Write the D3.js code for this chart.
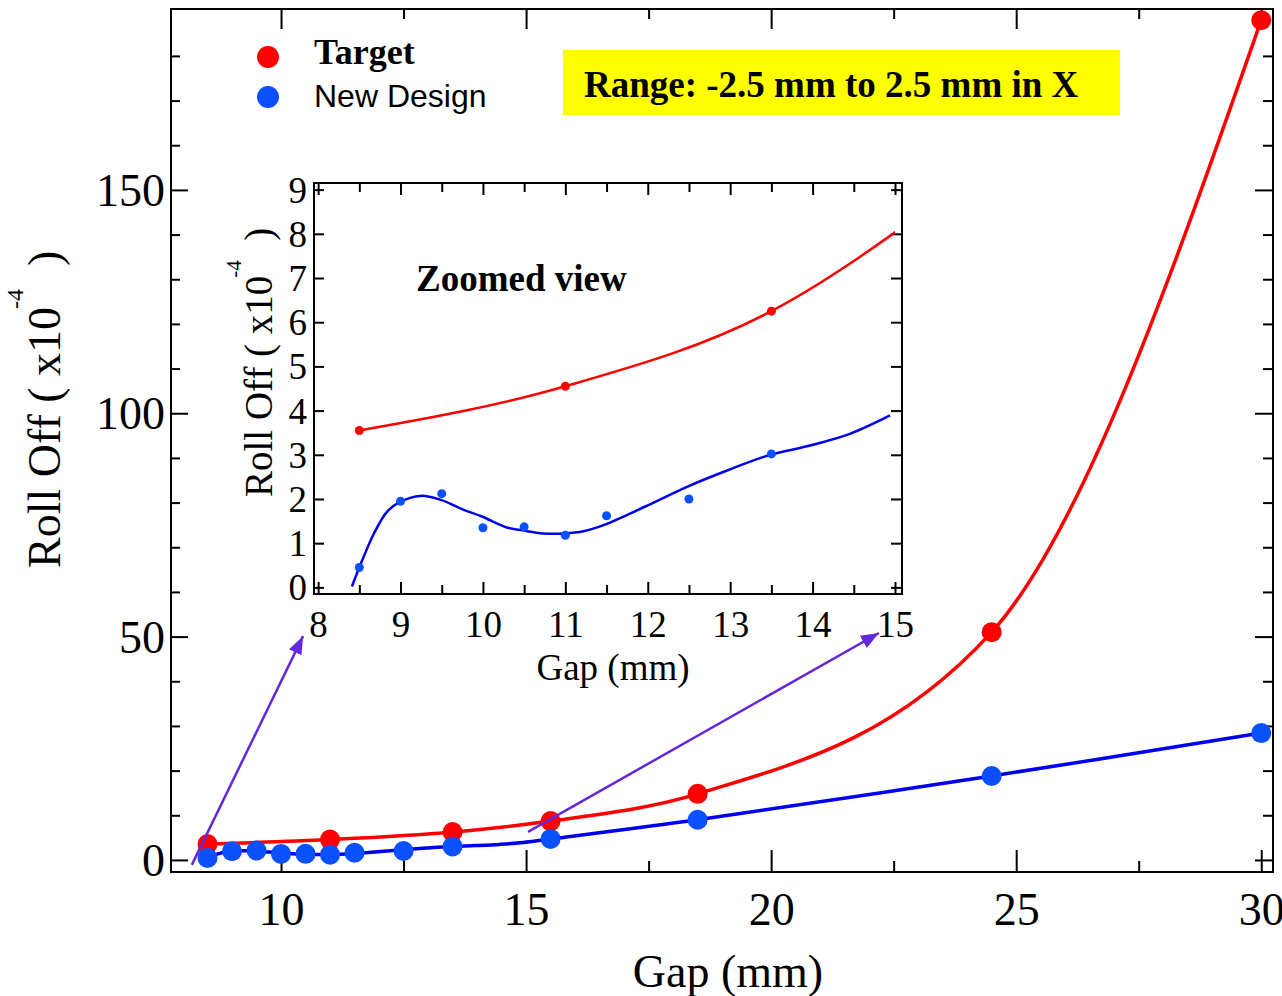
<!DOCTYPE html>
<html>
<head>
<meta charset="utf-8">
<script src="https://cdn.jsdelivr.net/npm/d3@7"></script>
<style>
  body { margin: 0; background: #fff; }
  svg { display: block; }
  text { fill: #000; }
  .tick line { stroke: #000; stroke-width: 2; }
</style>
</head>
<body>
<div class="chart"></div>
<script>
// Roll off (x10^-4) against gap (mm)
var targetGap  = [8.5, 11, 13.5, 15.5, 18.5, 24.5, 30];
var targetRoll = [3.55, 4.55, 6.25, 8.7, 14.8, 51.0, 188.0];

var designGap  = [8.5, 9, 9.5, 10, 10.5, 11, 11.5, 12.5, 13.5, 15.5, 18.5, 24.5, 30];
var designRoll = [0.45, 1.95, 2.12, 1.35, 1.37, 1.18, 1.62, 2.0, 3.02, 4.7, 9.0, 18.8, 28.4];

// fitted curve of the new design
var designFitGap  = [8.41, 8.5, 8.68, 8.84, 9.0, 9.24, 9.49, 9.76, 9.98, 10.3, 10.48, 10.73,
                     10.98, 11.22, 11.48, 11.97, 12.47, 12.97, 13.47, 13.97, 14.46, 14.94];
var designFitRoll = [0.02, 0.45, 1.23, 1.72, 1.94, 2.07, 1.98, 1.76, 1.61, 1.35, 1.29, 1.22,
                     1.22, 1.27, 1.42, 1.83, 2.27, 2.65, 2.99, 3.21, 3.48, 3.89];

// ticks
var mainXTicks = [10, 15, 20, 25, 30];
var mainXMinor = [12.5, 17.5, 22.5, 27.5];
var mainYTicks = [0, 50, 100, 150];
var mainYMinor = [10, 20, 30, 40, 60, 70, 80, 90, 110, 120, 130, 140, 160, 170, 180];
var insetXTicks = [8, 9, 10, 11, 12, 13, 14, 15];
var insetXMinor = [8.5, 9.5, 10.5, 11.5, 12.5, 13.5, 14.5];
var insetYTicks = [0, 1, 2, 3, 4, 5, 6, 7, 8, 9];

// arrows from main plot to the zoomed view (main data units)
var arrowFrom = [[8.18, -1.1], [15.04, 6.3]];
var arrowTo   = [[10.45, 50.1], [22.2, 50.8]];

var legendNames = ["Target", "New Design"];
var rangeNote = "Range: -2.5 mm to 2.5 mm in X";
var insetNote = "Zoomed view";

var serif = '"Liberation Serif", "Times New Roman", serif';
var sans = '"Liberation Sans", Arial, sans-serif';
var red = "#ff0000", blueDot = "#0a50ff", blueLine = "#0000f0", purple = "#6428dc";

var target = targetGap.map((g, i) => ({gap: g, roll: targetRoll[i]}));
var design = designGap.map((g, i) => ({gap: g, roll: designRoll[i]}));
var designFit = designFitGap.map((g, i) => ({gap: g, roll: designFitRoll[i]}));
// main plot blue line: fitted part, then the measured points beyond
var designMainLine = designFit.concat(design.filter(d => d.gap > 15));

var svg = d3.select(".chart")
    .append("svg")
    .attr("width", 1282)
    .attr("height", 996)
    .style("font-family", serif);

svg.append("rect").attr("width", 1282).attr("height", 996).attr("fill", "#fff");

svg.append("defs").append("marker")
    .attr("id", "head")
    .attr("viewBox", "0 -7 18 14")
    .attr("refX", 18)
    .attr("refY", 0)
    .attr("markerWidth", 18)
    .attr("markerHeight", 14)
    .attr("markerUnits", "userSpaceOnUse")
    .attr("orient", "auto")
  .append("path")
    .attr("d", "M0,-7L18,0L0,7Z")
    .attr("fill", purple);

////////////////////////////////////////////////////////////////////
// main plot
var mLeft = 171, mRight = 1273, mTop = 9, mBottom = 872;
var x = d3.scaleLinear().domain([7.755, 30.24]).range([mLeft, mRight]);
var y = d3.scaleLinear().domain([-2.7, 190.5]).range([mBottom, mTop]);

function drawAxis(axis, tx, ty, size) {
  var g = svg.append("g")
      .attr("transform", `translate(${tx}, ${ty})`)
      .call(axis);
  g.attr("font-family", null)
      .attr("font-size", null)
      .style("font-family", serif)
      .style("font-size", size + "px");
  g.select(".domain").remove();
  return g;
}

drawAxis(d3.axisBottom(x).tickValues(mainXTicks).tickSize(-22).tickSizeOuter(0).tickPadding(20), 0, mBottom, 46);
drawAxis(d3.axisBottom(x).tickValues(mainXMinor).tickSize(-11).tickFormat(""), 0, mBottom, 46);
drawAxis(d3.axisTop(x).tickValues(mainXTicks).tickSize(-20).tickFormat(""), 0, mTop, 46);
drawAxis(d3.axisTop(x).tickValues(mainXMinor).tickSize(-10).tickFormat(""), 0, mTop, 46);
drawAxis(d3.axisLeft(y).tickValues(mainYTicks).tickSize(-17).tickPadding(6), mLeft, 0, 46)
    .selectAll("text").attr("dy", "0.34em");
drawAxis(d3.axisLeft(y).tickValues(mainYMinor).tickSize(-9).tickFormat(""), mLeft, 0, 46);
drawAxis(d3.axisRight(y).tickValues(mainYTicks).tickSize(-18).tickFormat(""), mRight, 0, 46);
drawAxis(d3.axisRight(y).tickValues(mainYMinor).tickSize(-10).tickFormat(""), mRight, 0, 46);

svg.append("rect")
    .attr("x", mLeft).attr("y", mTop)
    .attr("width", mRight - mLeft).attr("height", mBottom - mTop)
    .attr("fill", "none").attr("stroke", "#000").attr("stroke-width", 2);

var mainLine = d3.line().x(d => x(d.gap)).y(d => y(d.roll)).curve(d3.curveMonotoneX);

svg.append("path").datum(target)
    .attr("d", mainLine).attr("fill", "none")
    .attr("stroke", red).attr("stroke-width", 3.5);
svg.append("path").datum(designMainLine)
    .attr("d", mainLine.curve(d3.curveCatmullRom)).attr("fill", "none")
    .attr("stroke", blueLine).attr("stroke-width", 3.5);

svg.append("g").selectAll("circle").data(target).enter().append("circle")
    .attr("cx", d => x(d.gap)).attr("cy", d => y(d.roll)).attr("r", 10).attr("fill", red);
svg.append("g").selectAll("circle").data(design).enter().append("circle")
    .attr("cx", d => x(d.gap)).attr("cy", d => y(d.roll)).attr("r", 10).attr("fill", blueDot);

// axis titles
svg.append("text")
    .attr("x", 728).attr("y", 987)
    .attr("text-anchor", "middle")
    .style("font-size", "46px")
    .text("Gap (mm)");

function rollLabel(tx, ty, size, supSize, supShift) {
  var t = svg.append("text")
      .attr("transform", `translate(${tx}, ${ty}) rotate(-90)`)
      .style("font-size", size + "px")
      .style("white-space", "pre");
  t.append("tspan").text("Roll Off ( x10");
  t.append("tspan").style("font-size", supSize + "px").attr("dx", -2).attr("dy", -supShift).text("-4");
  t.append("tspan").attr("dy", supShift).text("  )");
}
rollLabel(60, 568, 46, 24, 37);

// legend
var legendY = [57, 97];
svg.append("circle").attr("cx", 268).attr("cy", legendY[0]).attr("r", 11).attr("fill", red);
svg.append("circle").attr("cx", 268).attr("cy", legendY[1]).attr("r", 11).attr("fill", blueDot);
svg.append("text").attr("x", 314).attr("y", 64)
    .style("font-size", "36px").style("font-weight", "bold").text(legendNames[0]);
svg.append("text").attr("x", 314).attr("y", 107)
    .style("font-family", sans).style("font-size", "32px").text(legendNames[1]);

// note box
svg.append("rect").attr("x", 563).attr("y", 50).attr("width", 557).attr("height", 65).attr("fill", "#ffff00");
svg.append("text").attr("x", 584).attr("y", 97)
    .style("font-size", "37px").style("font-weight", "bold").text(rangeNote);

////////////////////////////////////////////////////////////////////
// zoomed view
var iLeft = 314, iRight = 902, iTop = 183, iBottom = 594;
var xi = d3.scaleLinear().domain([7.95, 15.085]).range([iLeft, iRight]);
var yi = d3.scaleLinear().domain([-0.15, 9.15]).range([iBottom, iTop]);

svg.append("rect")
    .attr("x", iLeft).attr("y", iTop)
    .attr("width", iRight - iLeft).attr("height", iBottom - iTop)
    .attr("fill", "#fff");

drawAxis(d3.axisBottom(xi).tickValues(insetXTicks).tickSize(-12).tickSizeOuter(0).tickPadding(17), 0, iBottom, 37);
drawAxis(d3.axisBottom(xi).tickValues(insetXMinor).tickSize(-9).tickFormat(""), 0, iBottom, 37);
drawAxis(d3.axisTop(xi).tickValues(insetXTicks).tickSize(-12).tickFormat(""), 0, iTop, 37);
drawAxis(d3.axisTop(xi).tickValues(insetXMinor).tickSize(-9).tickFormat(""), 0, iTop, 37);
drawAxis(d3.axisLeft(yi).tickValues(insetYTicks).tickSize(-10).tickPadding(7), iLeft, 0, 37)
    .selectAll("text").attr("dy", "0.34em");
drawAxis(d3.axisRight(yi).tickValues(insetYTicks).tickSize(-11).tickFormat(""), iRight, 0, 37);

svg.append("clipPath").attr("id", "insetClip")
  .append("rect")
    .attr("x", iLeft).attr("y", iTop)
    .attr("width", xi(15) - iLeft).attr("height", iBottom - iTop);

var insetLine = d3.line().x(d => xi(d.gap)).y(d => yi(d.roll));

svg.append("path").datum(target.filter(d => d.gap <= 15.5))
    .attr("clip-path", "url(#insetClip)")
    .attr("d", insetLine.curve(d3.curveMonotoneX)).attr("fill", "none")
    .attr("stroke", red).attr("stroke-width", 2.5);
svg.append("path").datum(designFit)
    .attr("d", insetLine.curve(d3.curveCatmullRom)).attr("fill", "none")
    .attr("stroke", blueLine).attr("stroke-width", 2.5);

svg.append("g").selectAll("circle").data(target.filter(d => d.gap <= 15)).enter().append("circle")
    .attr("cx", d => xi(d.gap)).attr("cy", d => yi(d.roll)).attr("r", 4.5).attr("fill", red);
svg.append("g").selectAll("circle").data(design.filter(d => d.gap <= 15)).enter().append("circle")
    .attr("cx", d => xi(d.gap)).attr("cy", d => yi(d.roll)).attr("r", 4.5).attr("fill", blueDot);

svg.append("rect")
    .attr("x", iLeft).attr("y", iTop)
    .attr("width", iRight - iLeft).attr("height", iBottom - iTop)
    .attr("fill", "none").attr("stroke", "#000").attr("stroke-width", 2);

svg.append("text")
    .attr("x", 613).attr("y", 680)
    .attr("text-anchor", "middle")
    .style("font-size", "37px")
    .text("Gap (mm)");
rollLabel(272, 497, 39, 21, 31);

svg.append("text").attr("x", 416).attr("y", 291)
    .style("font-size", "37px").style("font-weight", "bold").text(insetNote);

////////////////////////////////////////////////////////////////////
// arrows
svg.append("g").selectAll("line").data(arrowFrom).enter().append("line")
    .attr("x1", d => x(d[0])).attr("y1", d => y(d[1]))
    .attr("x2", (d, i) => x(arrowTo[i][0])).attr("y2", (d, i) => y(arrowTo[i][1]))
    .attr("stroke", purple).attr("stroke-width", 2.5)
    .attr("marker-end", "url(#head)");
</script>
</body>
</html>
